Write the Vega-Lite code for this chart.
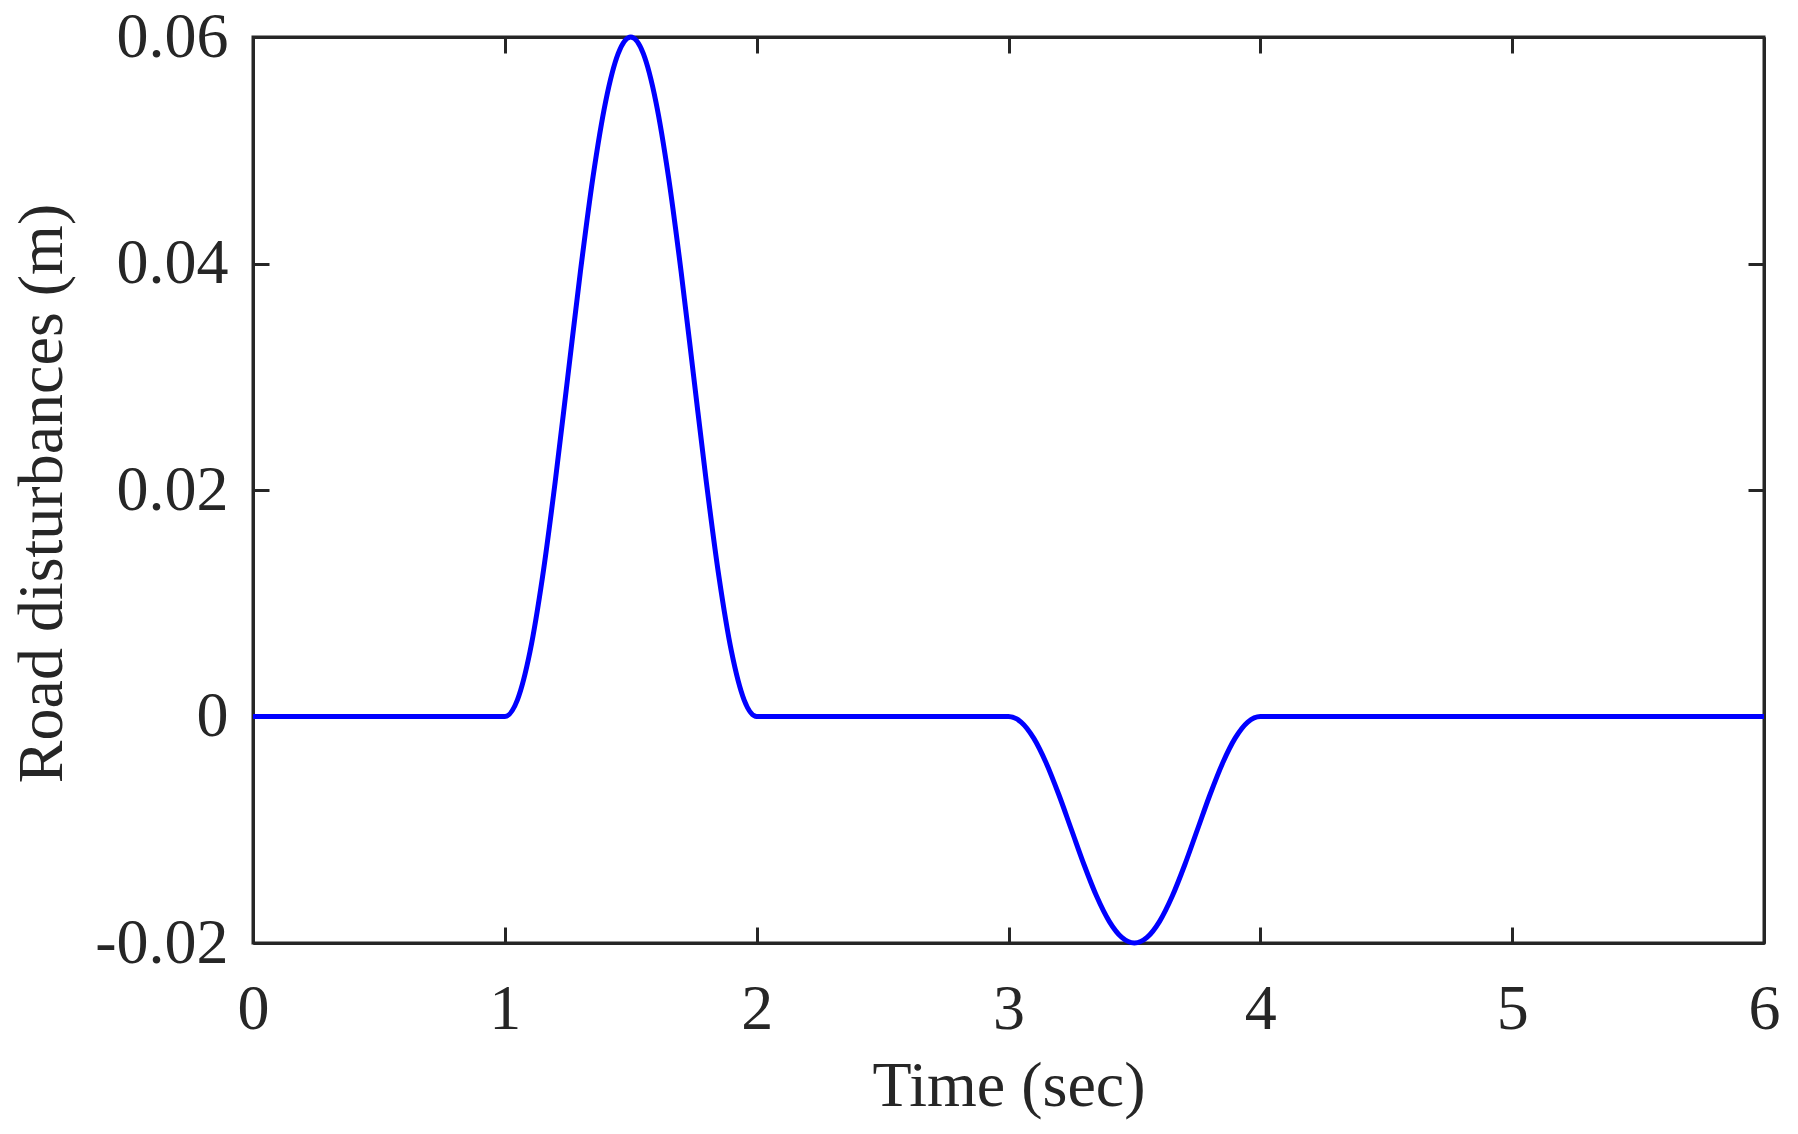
{
  "$schema": "https://vega.github.io/schema/vega-lite/v6.json",
  "autosize": {"type": "none"},
  "padding": {"left": 253, "top": 37, "right": 34, "bottom": 191},
  "width": 1511,
  "height": 906,
  "background": "white",
  "config": {
    "view": {"stroke": "#262626", "strokeWidth": 3},
    "axis": {
      "domainColor": "#262626",
      "domainWidth": 3,
      "tickColor": "#262626",
      "tickWidth": 3,
      "tickSize": -16,
      "grid": false,
      "labelFont": "Liberation Serif",
      "labelFontSize": 64,
      "labelColor": "#262626",
      "titleFont": "Liberation Serif",
      "titleFontSize": 64,
      "titleFontWeight": "normal",
      "titleColor": "#262626"
    }
  },
  "data": {
    "values": [
      {"t": 0, "y": 0},
      {"t": 1, "y": 0},
      {"t": 1.05, "y": 0.001468},
      {"t": 1.1, "y": 0.005729},
      {"t": 1.15, "y": 0.012366},
      {"t": 1.2, "y": 0.020729},
      {"t": 1.25, "y": 0.03},
      {"t": 1.3, "y": 0.039271},
      {"t": 1.35, "y": 0.047634},
      {"t": 1.4, "y": 0.054271},
      {"t": 1.45, "y": 0.058532},
      {"t": 1.5, "y": 0.06},
      {"t": 1.55, "y": 0.058532},
      {"t": 1.6, "y": 0.054271},
      {"t": 1.65, "y": 0.047634},
      {"t": 1.7, "y": 0.039271},
      {"t": 1.75, "y": 0.03},
      {"t": 1.8, "y": 0.020729},
      {"t": 1.85, "y": 0.012366},
      {"t": 1.9, "y": 0.005729},
      {"t": 1.95, "y": 0.001468},
      {"t": 2, "y": 0},
      {"t": 3, "y": 0},
      {"t": 3.05, "y": -0.000489},
      {"t": 3.1, "y": -0.00191},
      {"t": 3.15, "y": -0.004122},
      {"t": 3.2, "y": -0.00691},
      {"t": 3.25, "y": -0.01},
      {"t": 3.3, "y": -0.01309},
      {"t": 3.35, "y": -0.015878},
      {"t": 3.4, "y": -0.01809},
      {"t": 3.45, "y": -0.019511},
      {"t": 3.5, "y": -0.02},
      {"t": 3.55, "y": -0.019511},
      {"t": 3.6, "y": -0.01809},
      {"t": 3.65, "y": -0.015878},
      {"t": 3.7, "y": -0.01309},
      {"t": 3.75, "y": -0.01},
      {"t": 3.8, "y": -0.00691},
      {"t": 3.85, "y": -0.004122},
      {"t": 3.9, "y": -0.00191},
      {"t": 3.95, "y": -0.000489},
      {"t": 4, "y": 0},
      {"t": 6, "y": 0}
    ]
  },
  "layer": [
    {
      "mark": {"type": "line", "color": "#0000ff", "strokeWidth": 5, "interpolate": "monotone", "clip": false},
      "encoding": {
        "x": {
          "field": "t", "type": "quantitative",
          "scale": {"domain": [0, 6], "nice": false, "zero": false},
          "axis": {
            "orient": "bottom",
            "title": "Time (sec)",
            "values": [0, 1, 2, 3, 4, 5, 6],
            "format": "d",
            "labelPadding": 101,
            "labelBaseline": "alphabetic",
            "labelFlush": false,
            "titleBaseline": "alphabetic",
            "titleY": 162,
            "titleX": 755.5,
            "titleAnchor": "middle"
          }
        },
        "y": {
          "field": "y", "type": "quantitative",
          "scale": {"domain": [-0.02, 0.06], "nice": false, "zero": false},
          "axis": {
            "orient": "left",
            "title": "Road disturbances (m)",
            "values": [-0.02, 0, 0.02, 0.04, 0.06],
            "labelExpr": "datum.value == 0 ? '0' : (datum.value < 0 ? '-' + format(-datum.value, '.2f') : format(datum.value, '.2f'))",
            "labelPadding": 41,
            "labelBaseline": "middle",
            "labelFlush": false,
            "titleAngle": -90,
            "titleBaseline": "middle",
            "titleAlign": "center",
            "titleX": -211,
            "titleY": 456
          }
        }
      }
    },
    {
      "mark": {"type": "line", "opacity": 0},
      "encoding": {
        "x": {
          "field": "t", "type": "quantitative",
          "scale": {"domain": [0, 6], "nice": false, "zero": false},
          "axis": {"orient": "top", "title": null, "labels": false, "values": [0, 1, 2, 3, 4, 5, 6]}
        },
        "y": {
          "field": "y", "type": "quantitative",
          "scale": {"domain": [-0.02, 0.06], "nice": false, "zero": false},
          "axis": {"orient": "right", "title": null, "labels": false, "values": [-0.02, 0, 0.02, 0.04, 0.06]}
        }
      }
    }
  ],
  "resolve": {"axis": {"x": "independent", "y": "independent"}}
}
